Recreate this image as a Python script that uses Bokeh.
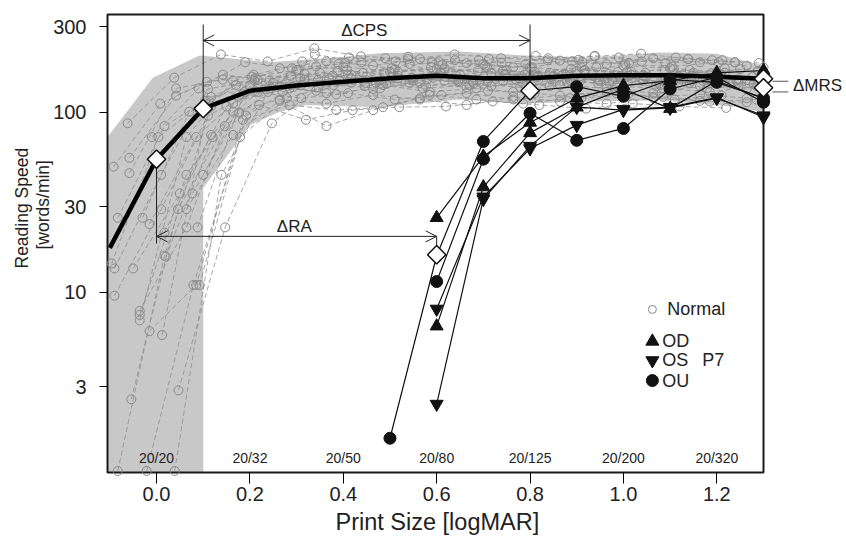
import math
from bokeh.plotting import figure
from bokeh.models import Range1d, FixedTicker, NumeralTickFormatter, Arrow, OpenHead, Title
from bokeh.embed import file_html
from bokeh.resources import INLINE
from bokeh.core.properties import value

# ---------------- data ----------------
# normal subjects: first print size (logMAR) and reading speeds at 0.1 logMAR steps
normal_start = [-0.092, -0.058, -0.058, -0.083, -0.030, -0.015, 0.017, -0.096, -0.090, -0.050,
                -0.090, -0.036, -0.036, -0.036, -0.015, 0.012, -0.054, 0.047, -0.083, -0.021,
                0.039, -0.062, -0.010, 0.020, 0.064, 0.092, 0.088, 0.100, 0.077]
n01 = [50, 112, 148, 162, 155, 172, 158, 166, 178, 162, 150, 168, 174, 160]
n02 = [56, 124, 162, 150, 180, 166, 186, 152, 170, 166, 178, 160, 172, 150]
n03 = [46, 136, 152, 140, 132, 150, 146, 160, 150, 140, 156, 150, 146, 152]
n04 = [26, 84, 122, 140, 152, 146, 160, 150, 140, 152, 164, 155, 145, 150]
n05 = [26, 101, 142, 130, 154, 146, 136, 142, 152, 162, 146, 140, 150, 145]
n06 = [24, 73, 126, 136, 126, 142, 130, 136, 146, 152, 140, 136, 130, 140]
n07 = [21.5, 75, 130, 152, 162, 155, 172, 165, 158, 172, 168, 160, 176]
n08 = [14.5, 73, 116, 158, 172, 188, 176, 192, 182, 178, 196, 185, 180, 190]
n09 = [13.6, 45, 135, 150, 142, 162, 174, 165, 150, 168, 178, 160, 155, 162]
n10 = [13.6, 35.5, 108, 146, 166, 158, 150, 162, 172, 160, 150, 158, 166, 174]
n11 = [9.6, 29, 96, 130, 120, 128, 118, 125, 132, 128, 120, 126, 118, 124]
n12 = [7.9, 23, 112, 140, 128, 135, 146, 138, 130, 142, 136, 128, 140, 135]
n13 = [7.5, 45, 101, 118, 112, 125, 118, 110, 122, 115, 112, 120, 116, 114]
n14 = [7.0, 73, 150, 176, 192, 182, 198, 188, 178, 194, 185, 200, 190, 182]
n15 = [6.1, 11, 91, 110, 103, 107, 125, 118, 112, 120, 128, 122, 115, 118]
n16 = [5.8, 116, 156, 192, 202, 192, 185, 198, 206, 190, 188, 202, 195]
n17 = [2.55, 29, 84, 136, 152, 140, 156, 148, 162, 152, 145, 158, 150, 146]
n18 = [2.86, 23, 87, 138, 146, 156, 150, 164, 158, 150, 166, 160, 152]
n19 = [1.02, 16, 108, 152, 164, 155, 168, 176, 165, 160, 172, 162, 158, 166]
n20 = [1.02, 11, 73, 120, 142, 136, 152, 145, 138, 148, 156, 142, 136, 144]
n21 = [1.02, 45, 130, 210, 190, 204, 195, 188, 200, 206, 192, 198, 190]
n22 = [87, 156, 210, 192, 227, 205, 198, 210, 200, 195, 205, 212, 198, 190]
n23 = [73, 136, 190, 176, 186, 200, 190, 196, 185, 192, 202, 188, 195, 188]
n24 = [15.8, 73, 110, 91, 103, 107, 108, 115, 110, 105, 112, 108, 106]
n25 = [29, 75, 116, 84, 103, 120, 128, 118, 124, 130, 122, 126, 120]
n26 = [11, 96, 138, 150, 144, 156, 148, 140, 152, 158, 146, 150, 144]
n27 = [23, 130, 160, 170, 165, 178, 170, 162, 175, 168, 172, 165, 170]
n28 = [45, 140, 172, 180, 168, 175, 185, 178, 170, 182, 176, 168, 178]
n29 = [35.5, 100, 145, 160, 150, 140, 148, 155, 162, 150, 145, 152, 158]
normal_speeds = [n01, n02, n03, n04, n05, n06, n07, n08, n09, n10, n11, n12, n13, n14, n15,
                 n16, n17, n18, n19, n20, n21, n22, n23, n24, n25, n26, n27, n28, n29]

# normal range (grey band)
band_upper_x = [-0.105, -0.008, 0.092, 0.141, 0.242, 0.385, 0.477, 0.649, 0.79, 0.93, 1.077, 1.2, 1.3]
band_upper_y = [73, 156, 207, 202, 190, 202, 213, 218, 207, 202, 215, 212, 182]
band_lower_x = [1.3, 1.25, 1.077, 0.93, 0.79, 0.649, 0.477, 0.32, 0.26, 0.2, 0.1, 0.1, -0.105]
band_lower_y = [100, 107, 117, 115, 112, 118, 107, 110, 100, 85, 38, 1, 1]

# mean normal curve
mean_x = [-0.1, 0.0, 0.1, 0.2, 0.3, 0.4, 0.5, 0.6, 0.7, 0.8, 0.9, 1.0, 1.1, 1.2, 1.3]
mean_y = [17.7, 55, 105, 132, 141, 148, 155, 160, 155, 155, 160, 161, 161, 158, 154]

# patient P7
p7_x = [0.6, 0.7, 0.8, 0.9, 1.0, 1.1, 1.2, 1.3]
od_1 = [26, 57, 88, 120, 141, 150, 166, 171]
od_2 = [6.5, 38.5, 77, 107, 135, 105, 150, 120]
os_1 = [8.1, 34, 63, 85, 104, 107, 121, 94]
os_2 = [2.4, 33, 65, 107, 103, 106, 120, 96]
ou_1_x = [0.5, 0.6, 0.7, 0.8, 0.9, 1.0, 1.1, 1.2, 1.3]
ou_1 = [1.55, 16, 69, 132, 139, 123, 152, 147, 120]
ou_2 = [11.5, 55, 99, 70, 81.5, 135, 157, 114]

# key parameters (diamonds): RA / CPS normal, RA / CPS patient, MRS normal / patient
key_x = [0.0, 0.1, 0.6, 0.8, 1.3, 1.3]
key_y = [55, 105, 16.2, 132, 154, 137]

acuity_x = [0.0, 0.2, 0.4, 0.6, 0.8, 1.0, 1.2]
acuity_labels = ["20/20", "20/32", "20/50", "20/80", "20/125", "20/200", "20/320"]

y_ticks = [3, 10, 30, 100, 300]
x_ticks = [0.0, 0.2, 0.4, 0.6, 0.8, 1.0, 1.2]

# ---------------- figure ----------------
FONT = "Liberation Sans"
TXT = "#222222"
XL, XR, YB, YT = -0.105, 1.3, 1.0, 350.0
BOX_W, BOX_H = 656, 458
PAD_L, PAD_R, PAD_T, PAD_B = 8, 82, 6, 8
BORDER_L = 99
xs_per_px = (XR - XL) / BOX_W
dec_per_px = (math.log10(YT) - math.log10(YB)) / BOX_H
FRAME_W = BOX_W + PAD_L + PAD_R
FRAME_H = BOX_H + PAD_T + PAD_B

p = figure(
    frame_width=FRAME_W, frame_height=FRAME_H,
    x_range=Range1d(XL - PAD_L * xs_per_px, XR + PAD_R * xs_per_px),
    y_range=Range1d(10 ** (math.log10(YB) - PAD_B * dec_per_px), 10 ** (math.log10(YT) + PAD_T * dec_per_px)),
    y_axis_type="log", output_backend="svg", toolbar_location=None,
    min_border_left=BORDER_L, min_border_right=0, min_border_top=8, min_border_bottom=66,
)
p.outline_line_color = None
p.background_fill_color = "white"
p.border_fill_color = "white"
p.xgrid.visible = False
p.ygrid.visible = False

for ax in (p.xaxis[0], p.yaxis[0]):
    ax.axis_line_color = None
    ax.minor_tick_line_color = None
    ax.major_tick_line_color = "black"
    ax.major_tick_line_width = 1
    ax.major_label_text_font = FONT
    ax.major_label_text_color = TXT
    ax.axis_label_standoff = 0

p.xaxis.ticker = FixedTicker(ticks=x_ticks)
p.xaxis.formatter = NumeralTickFormatter(format="0.0")
p.xaxis.major_tick_in = PAD_B
p.xaxis.major_tick_out = 3
p.xaxis.major_label_standoff = 3
p.xaxis.major_label_text_font_size = "20px"

p.yaxis.ticker = FixedTicker(ticks=y_ticks)
p.yaxis.major_label_overrides = {t: str(t) for t in y_ticks}
p.yaxis.major_tick_in = PAD_L
p.yaxis.major_tick_out = 0
p.yaxis.major_label_standoff = 13
p.yaxis.major_label_text_font_size = "20px"

# axis titles (side titles, offset along the axis like the original)
p.add_layout(Title(text="Print Size [logMAR]", align="left", offset=236,
                   text_font=FONT, text_font_size="23.5px", text_font_style="normal",
                   text_color=TXT, standoff=6), "below")
for t, off, so in [("[words/min]", 231, -5), ("Reading Speed", 212, 3)]:
    p.add_layout(Title(text=t, align="left", offset=off,
                       text_font=FONT, text_font_size="17.5px", text_font_style="normal",
                       text_color=TXT, standoff=so), "left")

# grey normal band
p.patch(band_upper_x + band_lower_x, band_upper_y + band_lower_y,
        fill_color="#c8c8c8", line_color=None)

# plot box
p.quad(left=[XL], right=[XR], bottom=[YB], top=[YT], fill_color=None,
       line_color="#1a1a1a", line_width=2)

# normal subjects
nx, ny = [], []
cx, cy = [], []
for x0, sp in zip(normal_start, normal_speeds):
    xs = [x0 + 0.1 * i for i in range(len(sp)) if x0 + 0.1 * i <= 1.3001]
    ys = sp[:len(xs)]
    nx.append(xs)
    ny.append(ys)
    cx += xs
    cy += ys
p.multi_line(nx, ny, line_color="#8f8f8f", line_width=0.8, line_dash="5 3")
p.scatter(cx, cy, marker="circle", size=9, fill_color=None, line_color="#8a8a8a", line_width=1)

# mean normal curve
p.line(mean_x, mean_y, line_color="black", line_width=4.5)

# annotation lines
p.segment(x0=[0.1, 0.8, 0.0, 0.6], y0=[308, 308, 55, 20.5],
          x1=[0.1, 0.8, 0.0, 0.6], y1=[105, 132, 18.7, 16.2],
          line_color=TXT, line_width=1)
for xa, xb, ya in [(0.1, 0.8, 251), (0.0, 0.6, 20.5)]:
    p.add_layout(Arrow(start=OpenHead(size=11, line_width=1, line_color=TXT),
                       end=OpenHead(size=11, line_width=1, line_color=TXT),
                       x_start=xa, y_start=ya, x_end=xb, y_end=ya,
                       line_width=1, line_color=TXT))

# patient lines
lc = "#111111"
for xs, ys in [(p7_x, od_1), (p7_x, od_2), (p7_x, os_1), (p7_x, os_2), (ou_1_x, ou_1), (p7_x[:len(ou_2)], ou_2)]:
    p.line(xs, ys, line_color=lc, line_width=1.2)
for ys in (od_1, od_2):
    p.scatter(p7_x, ys, marker="triangle", size=13, fill_color=lc, line_color=lc)
for ys in (os_1, os_2):
    p.scatter(p7_x, ys, marker="inverted_triangle", size=13, fill_color=lc, line_color=lc)
p.scatter(ou_1_x, ou_1, marker="circle", size=12, fill_color=lc, line_color=lc)
p.scatter(p7_x, ou_2, marker="circle", size=12, fill_color=lc, line_color=lc)

# key parameter diamonds
p.scatter(key_x, key_y, marker="square", angle=math.pi / 4, size=13,
          fill_color="white", line_color="#111111", line_width=1.5)

# delta labels
p.text(x=[0.445, 0.295], y=[285, 23.3], text=["\u0394CPS", "\u0394RA"],
       text_font=value(FONT), text_font_size="17px", text_align="center",
       text_baseline="middle", text_color=TXT)

# MRS marker lines and label right of the box
p.segment(x0=[1.319, 1.319], y0=[149, 130], x1=[1.353, 1.353], y1=[149, 130],
          line_color="#555555", line_width=1)
p.text(x=[1.363], y=[141], text=["\u0394MRS"], text_font=value(FONT), text_font_size="17px",
       text_align="left", text_baseline="middle", text_color=TXT)

# acuity labels inside the box
p.text(x=acuity_x, y=[1.21] * len(acuity_x), text=acuity_labels,
       text_font=value(FONT), text_font_size="14px", text_align="center",
       text_baseline="middle", text_color=TXT)

# legend
p.scatter([1.062], [8.05], marker="circle", size=8, fill_color=None, line_color="#8a8a8a", line_width=1)
p.scatter([1.062], [5.35], marker="triangle", size=13, fill_color=lc, line_color=lc)
p.scatter([1.062], [4.19], marker="inverted_triangle", size=13, fill_color=lc, line_color=lc)
p.scatter([1.062], [3.24], marker="circle", size=12, fill_color=lc, line_color=lc)
p.text(x=[1.094, 1.083, 1.083, 1.083, 1.169], y=[8.05, 5.35, 4.19, 3.24, 4.19],
       text=["Normal", "OD", "OS", "OU", "P7"],
       text_font=value(FONT), text_font_size="18px", text_align="left",
       text_baseline="middle", text_color=TXT)

open("out.html", "w").write(file_html(p, INLINE))
